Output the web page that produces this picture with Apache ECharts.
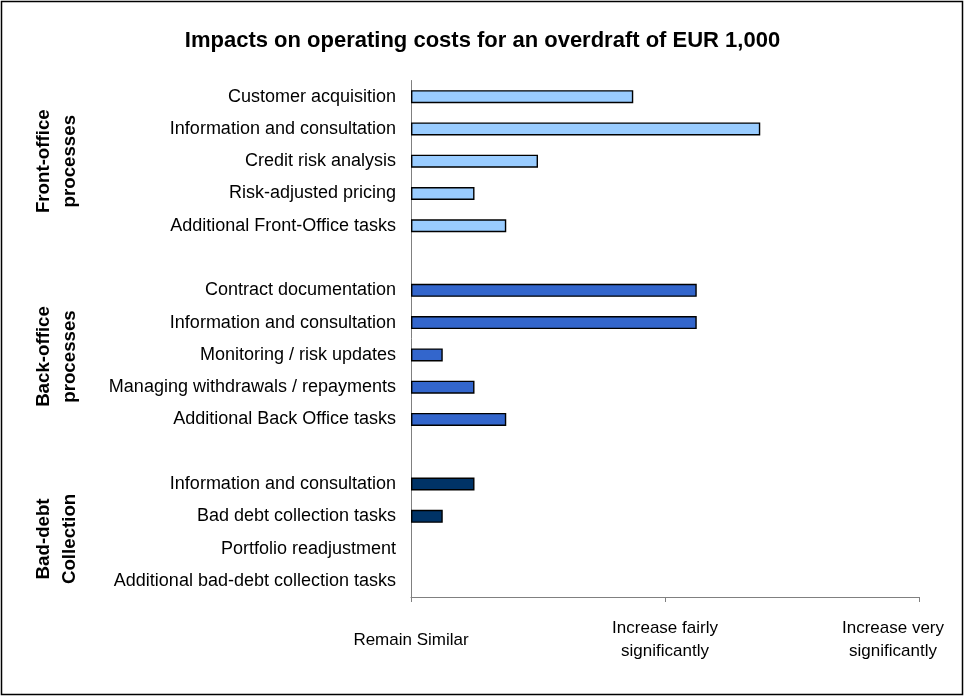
<!DOCTYPE html>
<html>
<head>
<meta charset="utf-8">
<script src="https://cdn.jsdelivr.net/npm/echarts@6/dist/echarts.min.js"></script>
<style>
html,body{margin:0;padding:0;background:#fff;}
#chart{width:965px;height:698px;}
</style>
</head>
<body>
<div id="chart"></div>
<script>
// ---- data ----
const titleText = 'Impacts on operating costs for an overdraft of EUR 1,000';
const groupNames = ['Front-office\nprocesses', 'Back-office\nprocesses', 'Bad-debt\nCollection'];
const frontLabels = ['Customer acquisition', 'Information and consultation', 'Credit risk analysis', 'Risk-adjusted pricing', 'Additional Front-Office tasks'];
const frontValues = [0.875, 1.375, 0.5, 0.25, 0.375];
const backLabels = ['Contract documentation', 'Information and consultation', 'Monitoring / risk updates', 'Managing withdrawals / repayments', 'Additional Back Office tasks'];
const backValues = [1.125, 1.125, 0.125, 0.25, 0.375];
const badLabels = ['Information and consultation', 'Bad debt collection tasks', 'Portfolio readjustment', 'Additional bad-debt collection tasks'];
const badValues = [0.25, 0.125, 0, 0];
const xTickLabels = ['Remain Similar', 'Increase fairly\nsignificantly', 'Increase very\nsignificantly'];
const colors = ['#99CCFF', '#3366CC', '#003366'];

// ---- build ----
const categories = [].concat(frontLabels, [''], backLabels, [''], badLabels);
const n = categories.length;
function place(values, offset) {
  const arr = new Array(n).fill(null);
  values.forEach((v, i) => {
    arr[offset + i] = v === 0 ? {value: 0, itemStyle: {borderWidth: 0}} : v;
  });
  return arr;
}
const offsets = [0, frontLabels.length + 1, frontLabels.length + backLabels.length + 2];
const valueSets = [frontValues, backValues, badValues];

const chart = echarts.init(document.getElementById('chart'), null, {renderer: 'canvas'});
const font = 'Liberation Sans, Arial, sans-serif';

const gridTop = 80.5, gridBottom = 101;
const plotH = 698 - gridTop - gridBottom;
const band = plotH / n;
function rowCenter(i) { return gridTop + band * (i + 0.5); }

const groupCenters = [rowCenter(2), rowCenter(8.05), rowCenter(13.7)];

chart.setOption({
  animation: false,
  backgroundColor: '#fff',
  title: {
    text: titleText,
    left: 'center',
    top: 25,
    textStyle: {fontFamily: font, fontSize: 22, fontWeight: 'bold', color: '#000'}
  },
  grid: {left: 411, right: 46, top: gridTop, bottom: gridBottom, containLabel: false, outerBoundsMode: 'none'},
  xAxis: {
    type: 'value',
    min: 0, max: 2, interval: 1,
    splitLine: {show: false},
    axisLine: {show: true, lineStyle: {color: '#808080', width: 1}},
    axisTick: {show: true, length: 5, lineStyle: {color: '#808080'}},
    axisLabel: {
      margin: 20,
      fontFamily: font, fontSize: 17, color: '#000', lineHeight: 23,
      formatter: function (v) {
        const t = xTickLabels[Math.round(v)];
        if (v === 0) return '{s|' + t + '}';
        if (v === 2) return '{r|' + t.split('\n')[0] + '}\n{r|' + t.split('\n')[1] + '}';
        return t;
      },
      rich: {
        s: {fontFamily: font, fontSize: 17, color: '#000', padding: [23, 0, 0, 0], lineHeight: 23},
        r: {fontFamily: font, fontSize: 17, color: '#000', padding: [0, 52, 0, 0], lineHeight: 23}
      }
    }
  },
  yAxis: {
    type: 'category',
    inverse: true,
    data: categories,
    axisLine: {show: true, lineStyle: {color: '#808080', width: 1}},
    axisTick: {show: false},
    splitLine: {show: false},
    axisLabel: {margin: 15, fontFamily: font, fontSize: 18, color: '#000', interval: 0}
  },
  series: valueSets.map((vals, k) => ({
    type: 'bar',
    stack: 'all',
    barWidth: 13,
    data: place(vals, offsets[k]),
    itemStyle: {color: colors[k], borderColor: '#000', borderWidth: 1.4}
  })),
  graphic: [
    {
      type: 'rect', silent: true, z: -1,
      shape: {x: 1.5, y: 1.5, width: 961, height: 693},
      style: {fill: 'none', stroke: '#000', lineWidth: 1.5}
    }
  ].concat(groupNames.map((g, k) => ({
    type: 'text',
    x: 57, y: groupCenters[k],
    rotation: Math.PI / 2,
    style: {
      text: g,
      fontFamily: font, fontSize: 18.7, fontWeight: 'bold', fill: '#000',
      align: 'center', verticalAlign: 'middle', lineHeight: 26
    }
  })))
});
</script>
</body>
</html>
